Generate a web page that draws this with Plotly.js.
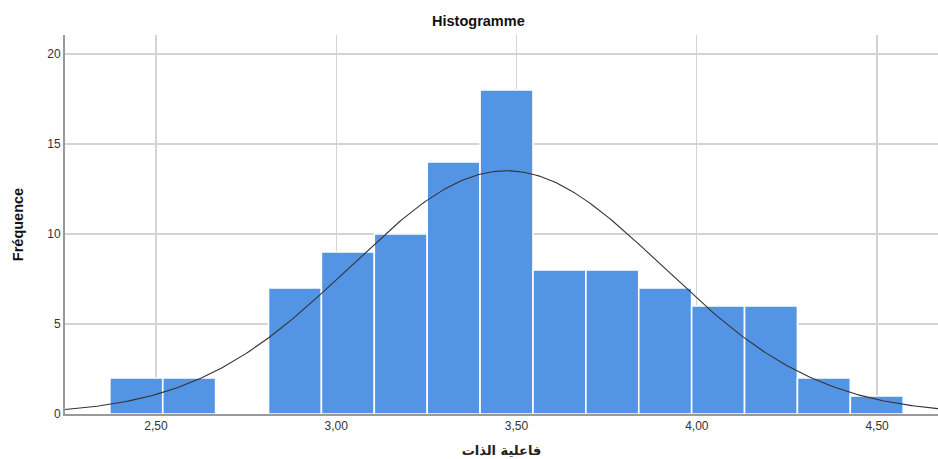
<!DOCTYPE html>
<html>
<head>
<meta charset="utf-8">
<script src="https://cdn.plot.ly/plotly-3.0.1.min.js"></script>
<style>html,body{margin:0;padding:0;background:#fff;}#chart{width:938px;height:459px;}</style>
</head>
<body>
<div id="chart"></div>
<script>
// Histogram data
const binStart = 2.372;
const binWidth = 0.1467;
const counts = [2, 2, 0, 7, 9, 10, 14, 18, 8, 8, 7, 6, 6, 2, 1];
// Normal curve parameters (fitted to the sample)
const sampleMean = 3.472;
const sampleSD = 0.433;
const sampleN = 100;
// Axis ticks
const xTickVals = [2.5, 3.0, 3.5, 4.0, 4.5];
const xTickText = ["2,50", "3,00", "3,50", "4,00", "4,50"];
const yTickVals = [0, 5, 10, 15, 20];

const centers = counts.map((c, i) => binStart + binWidth * (i + 0.5));

const xMin = 2.2476, xMax = 4.669;
const curveX = [], curveY = [];
const steps = 300;
for (let i = 0; i <= steps; i++) {
  const x = xMin + (xMax - xMin) * i / steps;
  const z = (x - sampleMean) / sampleSD;
  curveX.push(x);
  curveY.push(sampleN * binWidth / (sampleSD * Math.sqrt(2 * Math.PI)) * Math.exp(-0.5 * z * z));
}

const bars = {
  type: 'bar',
  x: centers,
  y: counts,
  width: binWidth,
  marker: { color: '#5494e4', line: { color: '#ffffff', width: 1.6 } },
  hoverinfo: 'x+y'
};
const curve = {
  type: 'scatter',
  mode: 'lines',
  x: curveX,
  y: curveY,
  line: { color: '#333333', width: 1.1 },
  hoverinfo: 'skip'
};

const layout = {
  width: 938, height: 459,
  margin: { l: 65, r: 0, t: 35, b: 45 },
  paper_bgcolor: '#ffffff',
  plot_bgcolor: '#ffffff',
  showlegend: false,
  font: { family: 'Liberation Sans, Arial, sans-serif', size: 12, color: '#333' },
  title: {
    text: '<b>Histogramme</b>',
    x: 0.51, xanchor: 'center', y: 0.955, yanchor: 'middle',
    font: { family: 'Liberation Sans, Arial, sans-serif', size: 14.5, color: '#111' }
  },
  xaxis: {
    range: [xMin, xMax],
    tickvals: xTickVals,
    ticktext: xTickText,
    showgrid: true, gridcolor: '#d4d4d4', gridwidth: 1.2,
    zeroline: false,
    showline: true, linecolor: '#9a9a9a', linewidth: 1.5,
    ticks: '', ticklen: 0,
    tickfont: { size: 12, color: '#333' },
    title: { text: '<b>فاعلية الذات</b>', standoff: 14,
      font: { family: 'DejaVu Sans, sans-serif', size: 13, color: '#222' } }
  },
  yaxis: {
    range: [0, 21.06],
    tickvals: yTickVals,
    showgrid: true, gridcolor: '#d4d4d4', gridwidth: 1.2,
    zeroline: false,
    showline: true, linecolor: '#9a9a9a', linewidth: 2,
    ticks: '', ticklen: 0,
    tickfont: { size: 12, color: '#333' },
    title: { text: '<b>Fréquence</b>', standoff: 20,
      font: { family: 'Liberation Sans, Arial, sans-serif', size: 14.5, color: '#111' } }
  },
  bargap: 0
};

Plotly.newPlot('chart', [bars, curve], layout, { displayModeBar: false, staticPlot: true });
</script>
</body>
</html>
